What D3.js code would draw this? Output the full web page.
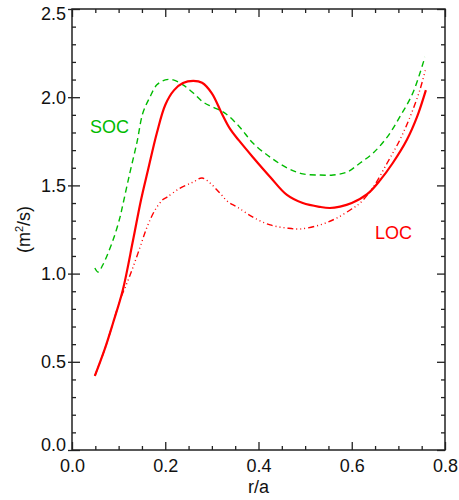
<!DOCTYPE html>
<html>
<head>
<meta charset="utf-8">
<script src="https://cdn.jsdelivr.net/npm/d3@7"></script>
<style>
  html, body { margin: 0; padding: 0; background: #fff; }
  svg { display: block; }
  text { font-family: "Liberation Sans", Arial, sans-serif; }
</style>
</head>
<body>
<svg id="chart" width="459" height="500"></svg>
<script>
// ---- data ----
const xTicksMajor = [0.0, 0.2, 0.4, 0.6, 0.8];
const yTicksMajor = [0.0, 0.5, 1.0, 1.5, 2.0, 2.5];

// LOC, solid red
const locSolidX = [0.049,0.07,0.088,0.109,0.131,0.148,0.163,0.182,0.2,0.219,0.238,0.26,0.279,0.30,0.321,0.339,0.358,0.388,0.425,0.461,0.495,0.532,0.553,0.575,0.60,0.633,0.661,0.688,0.718,0.74,0.759];
const locSolidY = [0.42,0.57,0.72,0.907,1.19,1.417,1.587,1.797,1.956,2.04,2.08,2.092,2.082,2.022,1.909,1.82,1.755,1.66,1.548,1.446,1.40,1.378,1.372,1.38,1.40,1.45,1.53,1.627,1.757,1.888,2.04];

// SOC, green dashed
const socX = [0.049,0.056,0.066,0.088,0.103,0.109,0.124,0.139,0.152,0.167,0.182,0.2,0.217,0.238,0.26,0.281,0.302,0.328,0.36,0.388,0.425,0.461,0.495,0.532,0.56,0.59,0.618,0.646,0.676,0.703,0.731,0.757];
const socY = [1.032,1.009,1.049,1.19,1.32,1.39,1.57,1.74,1.91,2.0,2.07,2.098,2.098,2.07,2.024,1.973,1.944,1.91,1.83,1.74,1.66,1.60,1.565,1.559,1.559,1.576,1.627,1.684,1.774,1.888,2.024,2.228];

// LOC, red dash-dot-dot-dot
const locDashX = [0.049,0.07,0.088,0.103,0.118,0.131,0.146,0.161,0.178,0.195,0.204,0.232,0.26,0.279,0.296,0.317,0.335,0.354,0.388,0.425,0.461,0.489,0.532,0.568,0.603,0.618,0.646,0.676,0.703,0.725,0.746,0.759];
const locDashY = [0.42,0.57,0.72,0.85,0.947,1.037,1.15,1.264,1.36,1.42,1.434,1.485,1.519,1.542,1.514,1.457,1.406,1.378,1.32,1.276,1.258,1.253,1.276,1.315,1.372,1.40,1.49,1.627,1.757,1.888,2.04,2.166];

const labelSOC = "SOC";
const labelLOC = "LOC";
const xTitle = "r/a";

// ---- layout ----
const W = 459, H = 500;
const m = { left: 72, top: 9, right: 14, bottom: 50 };
const iw = W - m.left - m.right, ih = H - m.top - m.bottom;
const RED = "#ff0000", GREEN = "#00bb00", AX = "#222";

const svg = d3.select("#chart");
const g = svg.append("g").attr("transform", `translate(${m.left},${m.top})`);

const x = d3.scaleLinear().domain([0, 0.8]).range([0, iw]);
const y = d3.scaleLinear().domain([0, 2.5]).range([ih, 0]);

const xMinor = d3.range(0, 0.8001, 0.05).filter(v => Math.abs(v / 0.2 - Math.round(v / 0.2)) > 1e-6);
const yMinor = d3.range(0, 2.5001, 0.1).filter(v => Math.abs(v / 0.5 - Math.round(v / 0.5)) > 1e-6);

function styleAxis(sel) {
  sel.select(".domain").remove();
  sel.selectAll("line").attr("stroke", AX).attr("stroke-width", 1.3);
  sel.selectAll("text").attr("fill", "#111").style("font-size", "18px")
     .style("font-family", '"Liberation Sans", Arial, sans-serif');
}

// bottom axis
const gb = g.append("g").attr("transform", `translate(0,${ih})`)
  .call(d3.axisBottom(x).tickValues(xTicksMajor).tickFormat(d3.format(".1f")).tickSize(-8).tickPadding(9));
styleAxis(gb);
const gbm = g.append("g").attr("transform", `translate(0,${ih})`)
  .call(d3.axisBottom(x).tickValues(xMinor).tickFormat("").tickSize(-4));
styleAxis(gbm);

// top axis
const gt = g.append("g").call(d3.axisTop(x).tickValues(xTicksMajor).tickFormat("").tickSize(-8));
styleAxis(gt);
const gtm = g.append("g").call(d3.axisTop(x).tickValues(xMinor).tickFormat("").tickSize(-4));
styleAxis(gtm);

// left axis
const gl = g.append("g")
  .call(d3.axisLeft(y).tickValues(yTicksMajor).tickFormat(d3.format(".1f")).tickSize(-8).tickPadding(6));
styleAxis(gl);
gl.selectAll(".tick line").attr("x1", -4);
gl.selectAll(".tick text").attr("dy", null).attr("dominant-baseline", "central")
  .attr("y", d => {
    const py = y(d);
    const c = Math.min(Math.max(py, 4), ih - 6);
    return c - py;
  });
const glm = g.append("g").call(d3.axisLeft(y).tickValues(yMinor).tickFormat("").tickSize(-4));
styleAxis(glm);

// right axis
const gr = g.append("g").attr("transform", `translate(${iw},0)`)
  .call(d3.axisRight(y).tickValues(yTicksMajor).tickFormat("").tickSize(-8));
styleAxis(gr);
const grm = g.append("g").attr("transform", `translate(${iw},0)`)
  .call(d3.axisRight(y).tickValues(yMinor).tickFormat("").tickSize(-4));
styleAxis(grm);

// frame
g.append("rect").attr("x", 0).attr("y", 0).attr("width", iw).attr("height", ih)
  .attr("fill", "none").attr("stroke", AX).attr("stroke-width", 1.5);

// lines
const line = d3.line().x(d => x(d[0])).y(d => y(d[1])).curve(d3.curveCatmullRom.alpha(0.5));
const zip = (a, b) => a.map((v, i) => [v, b[i]]);

g.append("path").datum(zip(socX, socY)).attr("d", line)
  .attr("fill", "none").attr("stroke", GREEN).attr("stroke-width", 1.4)
  .attr("stroke-dasharray", "6,4");
g.append("path").datum(zip(locDashX, locDashY)).attr("d", line)
  .attr("fill", "none").attr("stroke", RED).attr("stroke-width", 1.4)
  .attr("stroke-dasharray", "6,3,1,3,1,3,1,3");
g.append("path").datum(zip(locSolidX, locSolidY)).attr("d", line)
  .attr("fill", "none").attr("stroke", RED).attr("stroke-width", 2.2);

// labels
svg.append("text").attr("x", 90).attr("y", 133).attr("fill", GREEN)
  .style("font-size", "18px").text(labelSOC);
svg.append("text").attr("x", 375).attr("y", 239).attr("fill", RED)
  .style("font-size", "18px").text(labelLOC);

svg.append("text").attr("x", m.left + x(0.4)).attr("y", 492.5).attr("text-anchor", "middle")
  .attr("fill", "#111").style("font-size", "18px").text(xTitle);

const yt = svg.append("text").attr("transform", `translate(30,${m.top + ih / 2}) rotate(-90)`)
  .attr("text-anchor", "middle").attr("fill", "#111").style("font-size", "18px");
yt.append("tspan").text("(m");
yt.append("tspan").attr("dy", -7).style("font-size", "11px").text("2");
yt.append("tspan").attr("dy", 7).text("/s)");
</script>
</body>
</html>
